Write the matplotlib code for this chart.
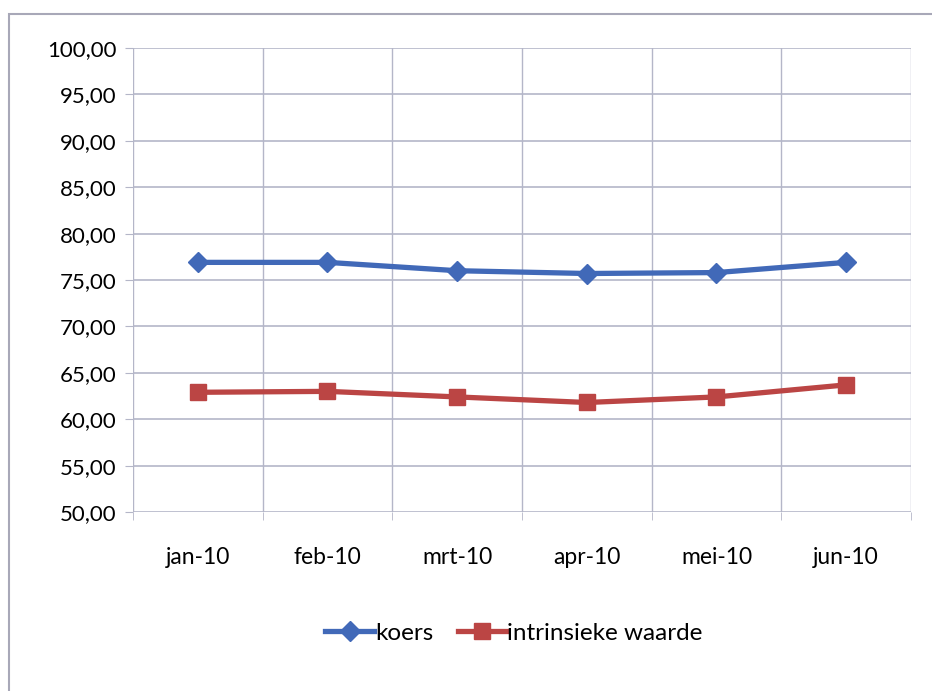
import matplotlib.pyplot as plt
import matplotlib
from matplotlib.patches import Rectangle
import numpy as np

matplotlib.rcParams.update({"font.family": ["Lato", "DejaVu Sans"], "font.size": 16})

months = ["jan-10", "feb-10", "mrt-10", "apr-10", "mei-10", "jun-10"]
koers = [76.9, 76.9, 76.0, 75.7, 75.8, 76.9]
intrinsiek = [62.9, 63.0, 62.4, 61.8, 62.4, 63.7]
y_ticks = np.arange(50, 101, 5)

fig = plt.figure(figsize=(9.32, 6.91), dpi=100)
# outer chart frame (cut at right and bottom like the scan)
fig.patches.append(Rectangle((9 / 932, -0.01), 1.0, 1 - 14 / 691 + 0.01,
                             transform=fig.transFigure, fill=False,
                             edgecolor="#a8a8b8", linewidth=1.5))

ax = fig.add_axes([133 / 932, 1 - 512 / 691, 778 / 932, 464 / 691])
x = np.arange(len(months))
grid_col = "#b4b6c8"

ax.plot(x, koers, "-D", color="#4169b8", linewidth=3.8, markersize=10,
        label="koers")
ax.plot(x, intrinsiek, "-s", color="#bb4544", linewidth=3.8, markersize=11,
        label="intrinsieke waarde")

ax.set_xlim(-0.5, len(months) - 0.5)
ax.set_ylim(50, 100)
ax.set_yticks(y_ticks)
ax.set_yticklabels([f"{v:.2f}".replace(".", ",") for v in y_ticks])
ax.set_xticks(x)
ax.set_xticklabels(months)
ax.set_xticks(np.arange(-0.5, len(months)), minor=True)

for v in y_ticks:
    ax.axhline(v, color=grid_col, linewidth=1.2, zorder=0)
for b in np.arange(-0.5, len(months)):
    ax.axvline(b, color=grid_col, linewidth=1.0, zorder=0)

for s in ax.spines.values():
    s.set_visible(False)
ax.tick_params(axis="x", which="major", length=0, pad=25, labelsize=16.5)
ax.tick_params(axis="x", which="minor", length=6, color=grid_col, direction="out")
ax.tick_params(axis="y", length=6, color=grid_col, pad=6, labelsize=16)

leg = fig.legend(loc="center", bbox_to_anchor=(514 / 932, 1 - 633 / 691), ncol=2,
                 frameon=False, fontsize=17.5, handlelength=2.0, handletextpad=0.05,
                 columnspacing=1.0)

fig.savefig("out.png", dpi=100)
